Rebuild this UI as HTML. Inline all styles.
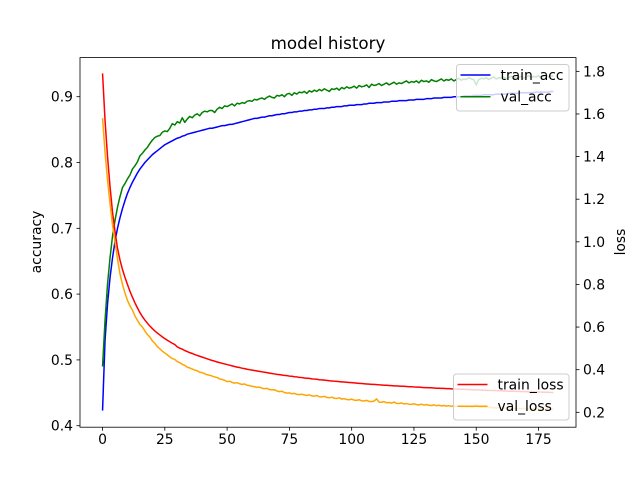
<!DOCTYPE html>
<html><head><meta charset="utf-8"><style>
body{margin:0;background:#fff}
svg{display:block;font-family:"DejaVu Sans","Liberation Sans",sans-serif}
</style></head><body>
<svg id="chart" width="640" height="480" viewBox="0 0 640 480">
<rect width="640" height="480" fill="#fff"/>
<text x="328" y="49" text-anchor="middle" font-size="16.7" fill="#000">model history</text>
<g id="plot"></g>
</svg>
<script>
const epochs = Array.from({length:182},(_, i)=>i);
const xTicks = [0,25,50,75,100,125,150,175];
const accTicks = [0.4,0.5,0.6,0.7,0.8,0.9];
const lossTicks = [0.2,0.4,0.6,0.8,1.0,1.2,1.4,1.6,1.8];
const trainAcc = [.423,.530,.585,.625,.655,.680,.700,.716,.730,.742,
.753,.762,.770,.777,.784,.790,.795,.800,.804,.808,
.812,.815,.818,.821,.824,.827,.829,.831,.833,.835,
.837,.838,.840,.841,.843,.844,.845,.846,.847,.848,
.849,.850,.851,.852,.852,.853,.854,.855,.856,.856,
.857,.858,.858,.859,.860,.861,.862,.863,.864,.865,
.866,.867,.867,.868,.869,.869,.870,.871,.871,.872,
.873,.873,.874,.874,.875,.876,.876,.877,.877,.878,
.878,.879,.879,.880,.880,.881,.881,.882,.882,.882,
.883,.883,.884,.884,.885,.885,.885,.886,.886,.887,
.887,.887,.888,.888,.888,.889,.889,.890,.890,.890,
.891,.891,.891,.892,.892,.892,.893,.893,.893,.894,
.894,.894,.894,.895,.895,.895,.896,.896,.896,.896,
.897,.897,.897,.898,.898,.898,.898,.899,.899,.899,
.899,.900,.900,.900,.900,.901,.901,.901,.901,.902,
.902,.902,.902,.903,.903,.903,.903,.903,.904,.904,
.904,.904,.904,.905,.905,.905,.905,.905,.906,.906,
.906,.906,.906,.906,.907,.907,.907,.907,.907,.907,
.908,.908];
const valAcc = [.490,.560,.615,.655,.688,.712,.732,.748,.762,.768,
.775,.781,.790,.795,.801,.810,.814,.819,.823,.829,
.834,.838,.840,.841,.846,.848,.847,.852,.859,.857,
.862,.860,.868,.861,.866,.870,.868,.872,.874,.871,
.876,.878,.877,.879,.879,.876,.881,.884,.882,.886,
.885,.887,.889,.886,.890,.889,.891,.890,.893,.894,
.893,.896,.895,.897,.898,.896,.899,.901,.899,.898,
.902,.901,.903,.900,.904,.905,.902,.906,.904,.907,
.906,.908,.905,.909,.907,.910,.908,.911,.909,.912,
.910,.908,.912,.911,.913,.910,.914,.912,.915,.913,
.914,.916,.913,.917,.915,.916,.918,.914,.919,.917,
.918,.920,.917,.919,.921,.918,.920,.922,.919,.921,
.920,.922,.924,.921,.923,.922,.924,.921,.925,.923,
.924,.922,.926,.924,.923,.925,.927,.924,.926,.925,
.927,.924,.926,.928,.925,.927,.926,.929,.927,.926,
.918,.926,.928,.927,.929,.926,.928,.930,.927,.929,
.928,.930,.927,.929,.931,.928,.930,.929,.931,.928,
.930,.932,.929,.931,.930,.932,.929,.931,.933,.930,
.932,.931];
const trainLoss = [1.790,1.570,1.400,1.260,1.140,1.050,0.970,0.915,0.870,0.833,
0.800,0.768,0.740,0.714,0.690,0.668,0.649,0.633,0.618,0.605,
0.593,0.582,0.572,0.563,0.554,0.546,0.538,0.531,0.524,0.518,
0.507,0.501,0.496,0.490,0.485,0.480,0.476,0.471,0.467,0.463,
0.459,0.455,0.451,0.447,0.443,0.440,0.436,0.433,0.430,0.427,
0.424,0.421,0.418,0.415,0.412,0.410,0.407,0.405,0.402,0.400,
0.398,0.396,0.394,0.392,0.390,0.388,0.386,0.384,0.382,0.380,
0.378,0.377,0.375,0.373,0.372,0.370,0.369,0.367,0.366,0.364,
0.363,0.361,0.360,0.359,0.357,0.356,0.355,0.353,0.352,0.351,
0.350,0.348,0.347,0.346,0.345,0.344,0.343,0.342,0.341,0.340,
0.339,0.338,0.337,0.336,0.335,0.334,0.333,0.332,0.331,0.331,
0.330,0.329,0.328,0.327,0.327,0.326,0.325,0.324,0.324,0.323,
0.322,0.322,0.321,0.320,0.320,0.319,0.318,0.318,0.317,0.316,
0.316,0.315,0.315,0.314,0.313,0.313,0.312,0.312,0.311,0.311,
0.310,0.310,0.309,0.309,0.308,0.308,0.307,0.307,0.306,0.306,
0.305,0.305,0.304,0.304,0.303,0.303,0.302,0.302,0.302,0.301,
0.301,0.300,0.300,0.299,0.299,0.299,0.298,0.298,0.297,0.297,
0.297,0.296,0.296,0.296,0.295,0.295,0.295,0.294,0.294,0.294,
0.293,0.293];
const valLoss = [1.580,1.420,1.290,1.180,1.080,1.000,0.920,0.850,0.800,0.760,
0.725,0.700,0.680,0.652,0.632,0.612,0.600,0.582,0.565,0.553,
0.535,0.524,0.508,0.498,0.487,0.478,0.470,0.460,0.452,0.448,
0.438,0.433,0.425,0.420,0.412,0.408,0.403,0.398,0.395,0.388,
0.386,0.381,0.376,0.374,0.370,0.366,0.363,0.357,0.354,0.350,
0.344,0.346,0.340,0.337,0.339,0.334,0.331,0.333,0.327,0.325,
0.322,0.320,0.317,0.318,0.313,0.311,0.312,0.307,0.305,0.306,
0.300,0.297,0.299,0.293,0.290,0.291,0.287,0.289,0.284,0.283,
0.285,0.281,0.279,0.282,0.277,0.276,0.279,0.273,0.272,0.275,
0.270,0.268,0.271,0.266,0.265,0.268,0.262,0.264,0.260,0.259,
0.262,0.257,0.256,0.259,0.254,0.253,0.256,0.251,0.250,0.253,
0.263,0.248,0.247,0.250,0.245,0.246,0.243,0.248,0.242,0.241,
0.244,0.239,0.241,0.238,0.237,0.240,0.236,0.235,0.238,0.234,
0.236,0.233,0.232,0.235,0.231,0.233,0.230,0.232,0.229,0.231,
0.228,0.230,0.227,0.229,0.226,0.228,0.225,0.227,0.224,0.226,
0.236,0.225,0.223,0.226,0.222,0.224,0.221,0.223,0.220,0.222,
0.221,0.219,0.222,0.218,0.220,0.217,0.219,0.218,0.216,0.219,
0.217,0.215,0.218,0.216,0.214,0.217,0.215,0.213,0.216,0.214,
0.213,0.215];

const L=80,R=576,T=57.6,B=427.2;
const xMin=-9.05,xMax=190.05;
const xs=v=>L+(v-xMin)/(xMax-xMin)*(R-L);
const yAcc=v=>425.7-(v-0.4)*658;
const yLoss=v=>412.3-(v-0.2)*213.1;
const NS='http://www.w3.org/2000/svg';
const g=document.getElementById('plot');
function mk(tag,attrs,parent){const e=document.createElementNS(NS,tag);for(const k in attrs)e.setAttribute(k,attrs[k]);(parent||g).appendChild(e);return e;}

function series(vals,yf,color,name){
  const d=vals.map((v,i)=>(i?'L':'M')+xs(epochs[i]).toFixed(2)+','+yf(v).toFixed(2)).join('');
  const p=mk('path',{d:d,fill:'none',stroke:color,'stroke-width':1.5,'stroke-linejoin':'round'});
  
  
}
series(trainAcc,yAcc,'#0000ff','train-acc-line');
series(valAcc,yAcc,'#008000','val-acc-line');
series(trainLoss,yLoss,'#ff0000','train-loss-line');
series(valLoss,yLoss,'#ffa500','val-loss-line');

const frame=mk('rect',{x:L,y:T,width:R-L,height:B-T,fill:'none',stroke:'#000','stroke-width':0.8});



xTicks.forEach(t=>{
  const x=xs(t);
  mk('line',{x1:x,x2:x,y1:B,y2:B+3.5,stroke:'#000','stroke-width':0.8});
  const tx=mk('text',{x:x,y:B+17,'text-anchor':'middle','font-size':13.9});
  tx.textContent=t;
  
  
});
accTicks.forEach(t=>{
  const y=yAcc(t);
  mk('line',{x1:L-3.5,x2:L,y1:y,y2:y,stroke:'#000','stroke-width':0.8});
  const tx=mk('text',{x:L-7,y:y+5,'text-anchor':'end','font-size':13.9});
  tx.textContent=t.toFixed(1);
  
  
});
lossTicks.forEach(t=>{
  const y=yLoss(t);
  mk('line',{x1:R,x2:R+3.5,y1:y,y2:y,stroke:'#000','stroke-width':0.8});
  const tx=mk('text',{x:R+7,y:y+5,'text-anchor':'start','font-size':13.9});
  tx.textContent=t.toFixed(1);
  
  
});
const yl=mk('text',{x:0,y:0,transform:'translate(41,242) rotate(-90)','text-anchor':'middle','font-size':13.9});
yl.textContent='accuracy';


const yr=mk('text',{x:0,y:0,transform:'translate(625,242) rotate(-90)','text-anchor':'middle','font-size':13.9});
yr.textContent='loss';



function legend(x,y,w,h,entries,name){
  const lg=mk('g',{});
  
  
  mk('rect',{x:x,y:y,width:w,height:h,rx:3,fill:'#fff','fill-opacity':0.8,stroke:'#cccccc','stroke-width':1},lg);
  entries.forEach((e,i)=>{
    const cy=y+10.5+i*21.7;
    mk('line',{x1:x+4,x2:x+34,y1:cy,y2:cy,stroke:e[1],'stroke-width':1.5},lg);
    const t=mk('text',{x:x+44,y:cy+5,'font-size':13.9},lg);
    t.textContent=e[0];
    
    
  });
}
legend(456.5,64.5,112.5,46.5,[['train_acc','#0000ff'],['val_acc','#008000']],'legend-accuracy');
legend(453.5,374,115.5,46,[['train_loss','#ff0000'],['val_loss','#ffa500']],'legend-loss');
</script>
</body></html>
